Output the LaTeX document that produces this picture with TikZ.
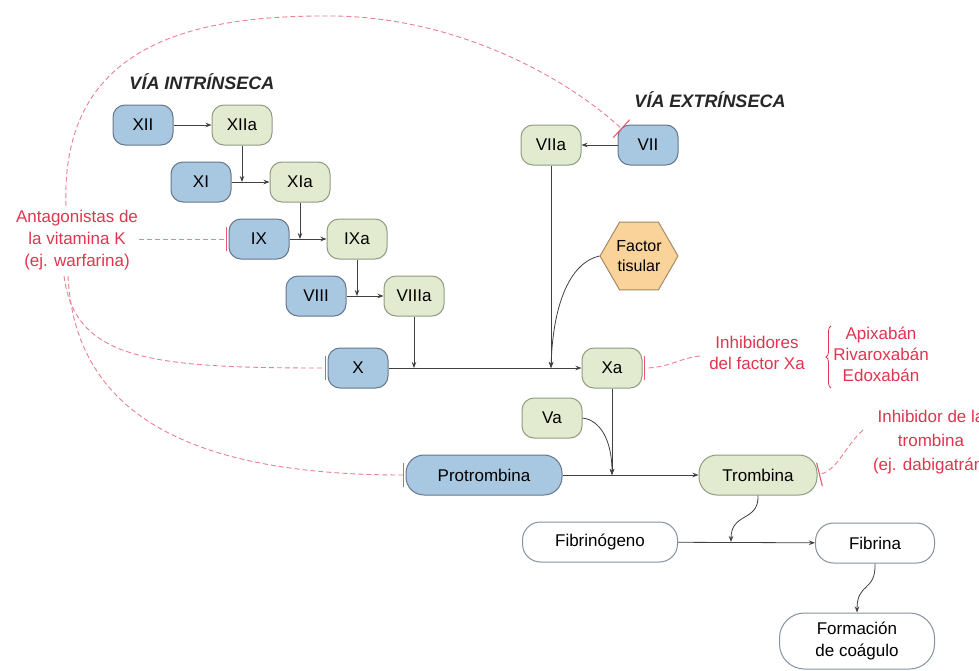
\documentclass[tikz,border=0pt]{standalone}
\usepackage{fontspec}
\setmainfont{Liberation Sans}
\usetikzlibrary{arrows.meta,shapes.geometric,decorations.pathreplacing}
\definecolor{bfill}{HTML}{A8C7E1}
\definecolor{gfill}{HTML}{E2EBCF}
\definecolor{bdraw}{HTML}{66778A}
\definecolor{gdraw}{HTML}{8E9C82}
\definecolor{hfill}{HTML}{FAD39B}
\definecolor{hdraw}{HTML}{A48A66}
\definecolor{redtext}{HTML}{E0354F}
\definecolor{reddash}{HTML}{EC7F90}
\definecolor{redbar}{HTML}{E85A70}
\definecolor{arrowc}{HTML}{404040}
\begin{document}
\begin{tikzpicture}[x=1pt,y=-1pt,
  font=\fontsize{17}{22}\selectfont,
  fac/.style={rounded corners=12pt, minimum width=60pt, minimum height=40pt, inner sep=0pt, line width=1pt},
  bluebox/.style={fac, fill=bfill, draw=bdraw},
  greenbox/.style={fac, fill=gfill, draw=gdraw},
  pill/.style={rounded corners=18pt, minimum height=40pt, inner sep=0pt, line width=1pt},
  pillblue/.style={pill, fill=bfill, draw=bdraw},
  pillgreen/.style={pill, fill=gfill, draw=gdraw},
  pillwhite/.style={pill, fill=white, draw=bdraw!80},
  hex/.style={regular polygon, regular polygon sides=6, minimum size=78pt, inner sep=0pt, fill=hfill, draw=hdraw, line width=1pt, align=center, font=\fontsize{16}{20}\selectfont},
  head/.style={font=\fontsize{18}{22}\selectfont\bfseries\itshape, text=black!85},
  redlabel/.style={text=redtext, align=center, inner sep=0pt},
  arr/.style={draw=arrowc, line width=0.8pt, -{Stealth[length=6pt,width=4.5pt]}},
  inh/.style={draw=reddash, line width=0.9pt, dash pattern=on 5pt off 3pt, shorten >=1.5pt, -{Bar[width=24pt,line width=1.1pt,color=redbar]}}
]
\useasboundingbox (0,0) rectangle (979,670);
\clip (0,0) rectangle (979,670);
\fill[white] (0,0) rectangle (979,670);

% headings
\node[head] (vi) at (202,82) {VÍA INTRÍNSECA};
\node[head] (ve) at (710,100) {VÍA EXTRÍNSECA};

% intrinsic
\node[bluebox] (XII) at (143,125) {XII};
\node[greenbox] (XIIa) at (242,125) {XIIa};
\node[bluebox] (XI) at (201,182) {XI};
\node[greenbox] (XIa) at (300,182) {XIa};
\node[bluebox] (IX) at (259,239) {IX};
\node[greenbox] (IXa) at (357,239) {IXa};
\node[bluebox] (VIII) at (316,296) {VIII};
\node[greenbox] (VIIIa) at (414,296) {VIIIa};
\node[bluebox] (X) at (358,368) {X};
\node[greenbox] (Xa) at (612,368) {Xa};

% extrinsic
\node[greenbox] (VIIa) at (551,145) {VIIa};
\node[bluebox] (VII) at (648,145) {VII};
\node[hex] (TF) at (639,256) {Factor\\tisular};

% common
\node[greenbox] (Va) at (552,418) {Va};
\node[pillblue, minimum width=156pt] (P) at (484,475) {Protrombina};
\node[pillgreen, minimum width=118pt] (T) at (758,475) {Trombina};
\node[pillwhite, minimum width=155pt] (Fg) at (600,542) {Fibrinógeno};
\node[pillwhite, minimum width=119pt] (Fb) at (875,543) {Fibrina};
\node[pillwhite, minimum width=155pt, minimum height=56pt, rounded corners=25pt, align=center] (Fc) at (857,641) {Formación\\de coágulo};

% red labels
\node[redlabel] (AVK) at (77,240) {Antagonistas de\\la vitamina K\\(ej. warfarina)};
\node[redlabel, font=\fontsize{17}{20.5}\selectfont] (IFX) at (757,353) {Inhibidores\\del factor Xa};
\node[redlabel, font=\fontsize{17}{21}\selectfont] (drugs) at (881,354) {Apixabán\\Rivaroxabán\\Edoxabán};
\node[redlabel, font=\fontsize{17}{24}\selectfont] (IT) at (931,442) {Inhibidor de la\\trombina\\(ej. dabigatrán)};
\draw[redtext, line width=0.8pt, decorate, decoration={brace, amplitude=5pt}] (831,388) -- (831,326);

% junction coordinates
\coordinate (jF) at (731,542);
\coordinate (avkR) at (139,239);
\coordinate (avkB1) at (64,276);
\coordinate (avkB2) at (68,276);
\coordinate (avkT) at (66,206);
\coordinate (ifxL) at (700,356);
\coordinate (itL) at (863,430);
\coordinate (vii) at (623,130);

% arrows
\draw[arr] (XII) -- (XIIa);
\draw[arr] (XI) -- (XIa);
\draw[arr] (XIIa.south) -- (XIIa.south |- XI.east);
\draw[arr] (IX) -- (IXa);
\draw[arr] (XIa.south) -- (XIa.south |- IX.east);
\draw[arr] (VIII) -- (VIIIa);
\draw[arr] (IXa.south) -- (IXa.south |- VIII.east);
\draw[arr] (X) -- (Xa);
\draw[arr] (VIIIa.south) -- (VIIIa.south |- X.east);
\draw[arr] (VII) -- (VIIa);
\draw[arr] (VIIa.south) -- (VIIa.south |- Xa.west);
\draw[arr] (TF.west) .. controls (572,262) and (553,300) .. (VIIa.south |- Xa.west);
\draw[arr] (P) -- (T);
\draw[arr] (Xa.south) -- (Xa.south |- P.east);
\draw[arr] (Va.east) .. controls (600,420) and (612,440) .. (Xa.south |- P.east);
\draw[arr] (Fg) -- (Fb);
\draw[arr] (T.south) .. controls (759,522) and (731,512) .. (jF);
\draw[arr] (Fb.south) .. controls (876,592) and (857,582) .. (Fc.north);

% inhibitions
\draw[inh] (avkR) -- (IX.west);
\draw[inh] (avkB1) .. controls (75,360) and (150,368) .. (X.west);
\draw[inh] (avkB2) .. controls (75,420) and (200,475) .. (P.west);
\draw[inh] (avkT) .. controls (60,40) and (200,15) .. (333,16) .. controls (450,17) and (560,72) .. (vii);
\draw[inh] (ifxL) .. controls (680,358) and (668,368) .. (Xa.east);
\draw[inh] (itL) .. controls (845,446) and (838,470) .. (T.east);
\end{tikzpicture}
\end{document}
